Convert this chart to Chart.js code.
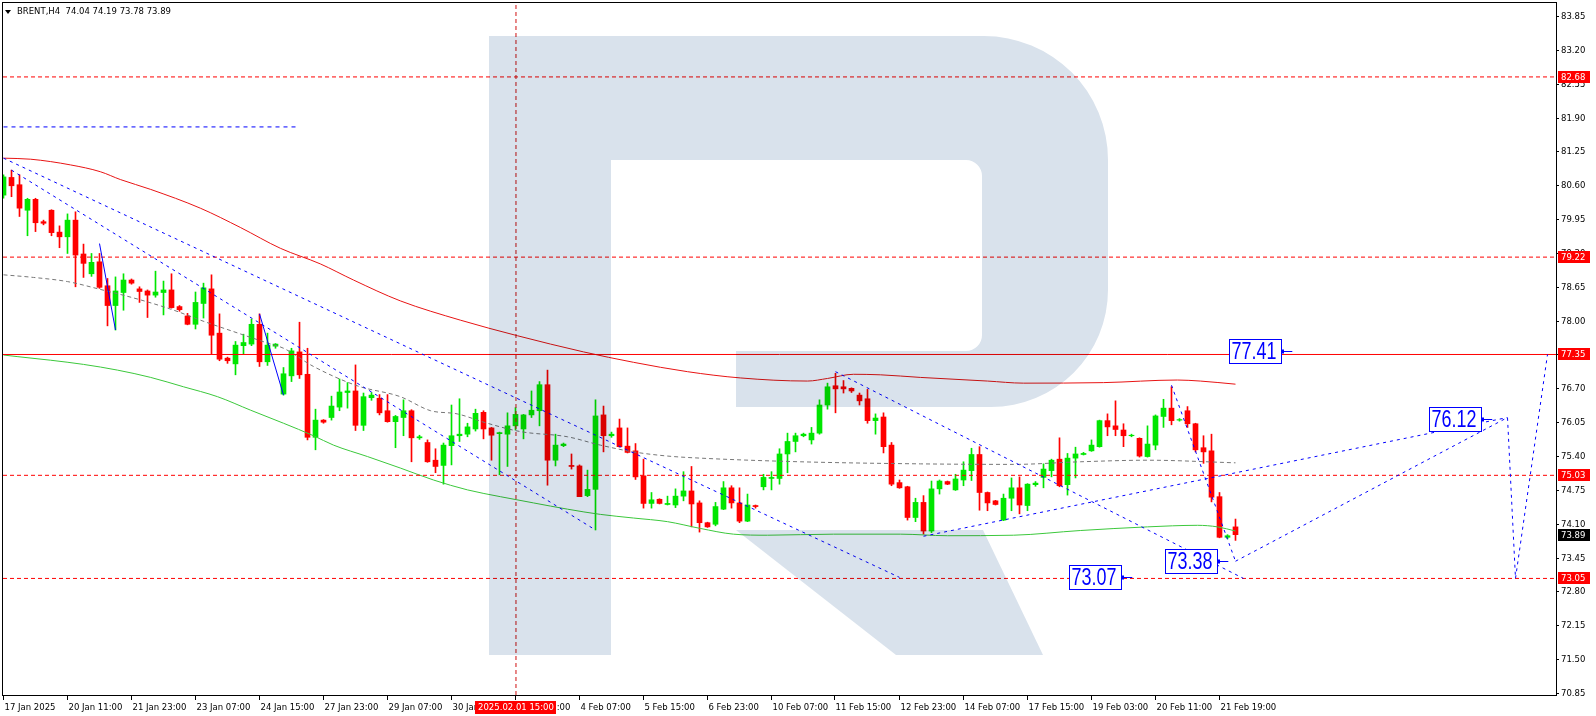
<!DOCTYPE html>
<html>
<head>
<meta charset="utf-8">
<title>BRENT,H4</title>
<script src="https://cdn.jsdelivr.net/npm/chart.js@4.4.1/dist/chart.umd.min.js"></script>
<style>
  html, body { margin: 0; padding: 0; background: #fff; overflow: hidden; }
  #brent-chart { display: block; }
</style>
</head>
<body>
<canvas id="brent-chart" width="1596" height="716"></canvas>
<script>
// BRENT H4 bars, bar 0 = 17 Jan 2025
const opens = [
  80.41, 80.75, 80.61, 80.12, 80.33, 79.90, 80.12, 79.70, 79.61, 79.93,
  79.28, 78.90, 79.13, 78.67, 78.29, 78.54, 78.78, 78.61, 78.57, 78.49,
  78.54, 78.59, 78.27, 78.09, 77.93, 78.33, 78.61, 77.76, 77.28, 77.17,
  77.52, 77.55, 77.93, 77.21, 77.51, 76.59, 76.94, 77.40, 76.97, 75.76,
  76.09, 76.14, 76.34, 76.62, 76.65, 75.99, 76.52, 76.51, 76.27, 76.06,
  76.14, 76.27, 75.75, 75.66, 75.32, 75.22, 75.60, 75.79, 75.82, 75.92,
  76.24, 75.94, 75.83, 75.82, 75.98, 75.92, 76.19, 76.27, 76.77, 75.32,
  75.60, 75.22, 75.21, 74.64, 74.76, 76.19, 75.79, 75.94, 75.59, 75.50,
  75.02, 74.49, 74.57, 74.47, 74.46, 74.63, 74.73, 74.50, 74.12, 74.09,
  74.38, 74.79, 74.50, 74.15, 74.45, 74.81, 74.97, 74.97, 75.44, 75.68,
  75.79, 75.71, 75.84, 76.38, 76.75, 76.73, 76.70, 76.57, 76.50, 76.08,
  76.15, 75.61, 74.89, 74.81, 74.22, 74.51, 73.96, 74.77, 74.91, 74.75,
  74.94, 75.12, 75.43, 74.70, 74.54, 74.17, 74.59, 74.79, 74.45, 74.85,
  74.99, 75.12, 75.34, 74.85, 75.36, 75.43, 75.50, 75.58, 76.08, 75.98,
  75.90, 75.79, 75.74, 75.39, 75.61, 76.16, 76.32, 76.09, 76.27, 76.02,
  75.56, 75.50, 74.62, 73.84, 74.04
];
const highs = [
  80.80, 80.89, 80.80, 80.35, 80.35, 79.93, 80.13, 79.82, 80.05, 80.09,
  79.47, 79.29, 79.29, 78.81, 78.84, 78.90, 78.80, 78.65, 78.59, 78.95,
  78.76, 78.90, 78.29, 78.14, 78.55, 78.72, 78.88, 78.13, 77.30, 77.60,
  77.74, 78.03, 78.13, 77.76, 77.56, 77.10, 77.47, 77.97, 77.47, 76.30,
  76.10, 76.55, 76.88, 76.81, 77.15, 76.61, 76.62, 76.58, 76.58, 76.18,
  76.48, 76.29, 75.80, 75.71, 75.54, 75.65, 76.38, 76.50, 76.03, 76.30,
  76.27, 75.95, 75.86, 76.23, 76.33, 76.20, 76.65, 76.83, 77.05, 75.82,
  75.65, 75.44, 75.23, 75.13, 76.48, 76.36, 75.86, 76.11, 75.94, 75.64,
  75.34, 74.70, 74.58, 74.63, 74.77, 75.10, 75.20, 74.54, 74.13, 74.51,
  74.91, 74.83, 74.79, 74.67, 74.46, 75.05, 75.10, 75.54, 75.84, 75.84,
  75.84, 75.95, 76.48, 76.80, 76.99, 76.85, 76.71, 76.61, 76.68, 76.21,
  76.23, 75.66, 74.94, 74.82, 74.59, 74.64, 74.92, 74.94, 74.92, 75.05,
  75.29, 75.55, 75.58, 74.71, 74.55, 74.67, 74.98, 75.00, 74.87, 74.91,
  75.25, 75.34, 75.75, 75.45, 75.57, 75.47, 75.71, 76.09, 76.21, 76.46,
  76.02, 75.82, 75.75, 75.98, 76.19, 76.49, 76.73, 76.12, 76.35, 76.03,
  75.79, 75.82, 74.70, 73.89, 74.19
];
const lows = [
  80.35, 80.38, 80.00, 79.63, 79.71, 79.84, 79.63, 79.40, 79.29, 78.65,
  78.83, 78.85, 78.62, 77.90, 77.82, 78.20, 78.70, 78.35, 78.06, 78.45,
  78.11, 78.24, 78.18, 77.92, 77.84, 78.05, 77.36, 77.23, 77.18, 76.96,
  77.36, 77.52, 77.12, 77.14, 77.47, 76.57, 76.83, 76.89, 75.71, 75.52,
  76.03, 76.09, 76.27, 76.32, 75.89, 75.89, 76.47, 76.19, 76.05, 75.56,
  75.79, 75.29, 75.72, 75.28, 75.08, 74.86, 75.23, 75.68, 75.77, 75.88,
  75.73, 75.32, 75.04, 75.20, 75.90, 75.73, 76.14, 75.98, 74.84, 75.21,
  75.58, 75.15, 74.62, 74.62, 73.98, 75.48, 75.76, 75.57, 75.46, 74.95,
  74.40, 74.40, 74.48, 74.46, 74.41, 74.54, 74.04, 73.94, 74.03, 74.06,
  74.37, 74.40, 74.12, 74.14, 74.40, 74.75, 74.75, 74.86, 75.08, 75.48,
  75.77, 75.63, 75.82, 76.30, 76.23, 76.61, 76.62, 76.38, 76.03, 75.82,
  75.46, 74.83, 74.78, 74.17, 74.14, 73.90, 73.93, 74.67, 74.85, 74.74,
  74.83, 74.93, 74.36, 74.35, 74.46, 74.16, 74.35, 74.29, 74.35, 74.82,
  74.79, 75.00, 74.81, 74.65, 74.98, 75.42, 75.49, 75.57, 75.79, 75.79,
  75.58, 75.77, 75.38, 75.38, 75.52, 75.95, 76.00, 76.07, 75.95, 75.48,
  75.26, 74.52, 73.83, 73.81, 73.78
];
const closes = [
  80.76, 80.59, 80.16, 80.33, 79.88, 79.87, 79.69, 79.61, 79.93, 79.26,
  79.10, 79.12, 78.64, 78.29, 78.57, 78.78, 78.72, 78.56, 78.49, 78.55,
  78.59, 78.25, 78.21, 77.93, 78.35, 78.63, 77.72, 77.26, 77.23, 77.53,
  77.58, 77.93, 77.21, 77.53, 77.55, 76.98, 77.42, 76.96, 75.76, 76.09,
  76.05, 76.36, 76.63, 76.65, 75.99, 76.54, 76.57, 76.23, 76.06, 76.16,
  76.27, 75.75, 75.77, 75.29, 75.20, 75.61, 75.79, 75.82, 75.96, 76.22,
  75.92, 75.80, 75.85, 75.98, 76.20, 76.19, 76.28, 76.77, 75.32, 75.61,
  75.63, 75.20, 74.62, 74.76, 76.17, 75.79, 75.82, 75.58, 75.47, 75.00,
  74.49, 74.56, 74.49, 74.49, 74.63, 74.73, 74.48, 74.12, 74.04, 74.43,
  74.79, 74.50, 74.15, 74.46, 74.43, 74.99, 74.99, 75.44, 75.68, 75.79,
  75.82, 75.84, 76.38, 76.73, 76.69, 76.69, 76.65, 76.46, 76.08, 76.13,
  75.58, 74.86, 74.79, 74.22, 74.51, 73.96, 74.77, 74.92, 74.86, 74.96,
  75.13, 75.43, 74.70, 74.50, 74.47, 74.59, 74.79, 74.46, 74.86, 74.88,
  75.15, 75.32, 74.83, 75.36, 75.44, 75.45, 75.61, 76.08, 75.96, 75.91,
  75.79, 75.80, 75.40, 75.63, 76.17, 76.32, 76.08, 76.10, 76.02, 75.52,
  75.48, 74.61, 73.84, 73.87, 73.89
];

// moving averages, [bar, price] read at points along each curve
const redMa = [[0, 81.12], [3.4, 81.10], [8.4, 80.99], [12.1, 80.86], [14.6, 80.71], [18.4, 80.52],
  [24.6, 80.16], [29.6, 79.79], [34.6, 79.39], [39.6, 79.09], [43.75, 78.78], [49.6, 78.38],
  [57.1, 78.01], [64.25, 77.71], [72.5, 77.40], [78.75, 77.20], [85.5, 77.02], [92.1, 76.90],
  [100.5, 76.84], [103, 76.89], [106.25, 76.97], [109.6, 76.96], [114.6, 76.91], [123, 76.84],
  [127.5, 76.80], [137.5, 76.81], [146.75, 76.86], [149.6, 76.84], [154, 76.78]];
const greenMa = [[0, 77.34], [1.7, 77.31], [5.9, 77.24], [10, 77.16], [14.25, 77.05], [18.4, 76.91],
  [22.5, 76.73], [26.75, 76.54], [30.9, 76.28], [35, 76.03], [38.75, 75.79], [41.25, 75.61],
  [45.5, 75.39], [49.6, 75.17], [53.75, 74.94], [58, 74.75], [62.1, 74.62], [66.25, 74.50],
  [70.5, 74.38], [74.6, 74.28], [78.75, 74.21], [83, 74.14], [87.1, 74.01], [91.25, 73.90],
  [95.5, 73.88], [103.75, 73.90], [112.1, 73.90], [118, 73.87], [126.25, 73.88], [134.6, 73.97],
  [143, 74.04], [149.25, 74.07], [151.75, 74.04], [154, 73.96]];
const grayMa = [[0, 78.88], [3.75, 78.83], [8, 78.75], [12.1, 78.60], [17.1, 78.40], [21.3, 78.20],
  [24.6, 78.01], [28.75, 77.79], [33, 77.57], [35, 77.47], [38.75, 77.12], [44.2, 76.75],
  [49.6, 76.54], [53.4, 76.27], [56.7, 76.21], [60.25, 76.04], [64.6, 75.87], [70.5, 75.77],
  [74.6, 75.61], [78.75, 75.48], [83, 75.40], [87.1, 75.36], [99.6, 75.29], [114.6, 75.25],
  [126.25, 75.24], [134.6, 75.29], [143, 75.32], [154, 75.27]];

// analyst's wave lines, [bar, price]
const waveB = [[0, 81.12], [112, 73.07]];
const waveC = [[1, 80.89], [74, 73.98]];
const waveUp = [[115, 73.86], [188, 76.14]];
const wave11Feb = [[104, 77.02], [155, 73.05]];
const wave20Feb = [[146, 76.76], [154, 73.38]];
const forecast = [[154, 73.38], [188, 76.14], [189, 73.05], [193, 77.35]];
const zigA = [[12, 79.48], [14, 77.82]];
const zigB = [[32, 78.13], [35, 76.57]];
const topDash = [[0, 81.72], [36.6, 81.72]];

const dashedLevels = [82.68, 79.22, 75.03, 73.05];
const solidLevel = 77.35;
const lastPrice = 73.89;
const markerBar = 64.06;
const markerText = '2025.02.01 15:00';

const tagPrices = [73.07, 73.38, 76.12, 77.41];
const tagBars = [141.1, 153.1, 186.1, 161.1];

const priceTicks = [70.85, 71.50, 72.15, 72.80, 73.45, 74.10, 74.75, 75.40, 76.05, 76.70, 77.35,
  78.00, 78.65, 79.30, 79.95, 80.60, 81.25, 81.90, 82.55, 83.20, 83.85];
const timeTickBars = [0, 8, 16, 24, 32, 40, 48, 56, 64, 72, 80, 88, 96, 104, 112, 120, 128, 136, 144, 152];
const timeTickText = ['17 Jan 2025', '20 Jan 11:00', '21 Jan 23:00', '23 Jan 07:00', '24 Jan 15:00',
  '27 Jan 23:00', '29 Jan 07:00', '30 Jan 15:00', '31 Jan 23:00', '4 Feb 07:00', '5 Feb 15:00',
  '6 Feb 23:00', '10 Feb 07:00', '11 Feb 15:00', '12 Feb 23:00', '14 Feb 07:00', '17 Feb 15:00',
  '19 Feb 03:00', '20 Feb 11:00', '21 Feb 19:00'];
const header = 'BRENT,H4  74.04 74.19 73.78 73.89';

const X_MIN = -0.0625, X_MAX = 194.0625;
const Y_MIN = 70.8116, Y_MAX = 84.0996;
const UP = '#00e600', DOWN = '#ff0000', BLUE = '#0000ff';
const FONT = '8.5px "DejaVu Sans"';

const bars = closes.map((c, i) => i);
const candleColors = bars.map(i => closes[i] >= opens[i] ? UP : DOWN);

function pts(list) {
  return list.map(p => ({ x: p[0], y: p[1] }));
}

function line(list, color, dash, order, smooth) {
  return {
    type: 'line',
    data: pts(list),
    borderColor: color,
    borderWidth: 1,
    borderDash: dash,
    pointRadius: 0,
    fill: false,
    order: order,
    tension: smooth ? 0.4 : 0,
    cubicInterpolationMode: smooth ? 'monotone' : 'default',
  };
}

const datasets = [
  {
    type: 'bar', data: bars.map(i => ({ x: i, y: [lows[i], highs[i]] })),
    backgroundColor: candleColors, barThickness: 1, grouped: false, order: 20,
  },
  {
    type: 'bar', data: bars.map(i => ({ x: i, y: [opens[i], closes[i]] })),
    backgroundColor: candleColors, barThickness: 5, grouped: false, order: 19,
  },
  line(redMa, '#e81414', [], 10, true),
  line(greenMa, '#3cc83c', [], 10, true),
  line(grayMa, '#777777', [4, 3], 10, true),
  line([[X_MIN, solidLevel], [X_MAX, solidLevel]], '#ff0000', [], 5),
  line([[markerBar, Y_MIN], [markerBar, Y_MAX]], '#d01010', [4, 3], 5),
  line(topDash, BLUE, [4, 4], 4),
  line(waveB, BLUE, [3, 4], 3),
  line(waveC, BLUE, [3, 4], 3),
  line(waveUp, BLUE, [3, 4], 3),
  line(wave11Feb, BLUE, [3, 4], 3),
  line(wave20Feb, BLUE, [3, 4], 3),
  line(forecast, BLUE, [3, 4], 3),
  line(zigA, BLUE, [], 3),
  line(zigB, BLUE, [], 3),
];
dashedLevels.forEach(v => datasets.push(line([[X_MIN, v], [X_MAX, v]], '#ff0000', [4, 3], 5)));

const mt4Decor = {
  id: 'mt4Decor',
  afterDatasetsDraw(chart) {
    // big "R" logo, multiplied over everything inside the plot
    const { ctx, chartArea: a } = chart;
    ctx.save();
    ctx.beginPath();
    ctx.rect(a.left, a.top, a.right - a.left, a.bottom - a.top);
    ctx.clip();
    ctx.globalCompositeOperation = 'multiply';
    ctx.fillStyle = 'rgb(217,226,236)';
    ctx.beginPath();
    ctx.moveTo(489, 36);
    ctx.lineTo(984, 36);
    ctx.arcTo(1108, 36, 1108, 160, 124);
    ctx.lineTo(1108, 290);
    ctx.arcTo(1108, 407, 990, 407, 117);
    ctx.lineTo(736, 407);
    ctx.lineTo(736, 351);
    ctx.lineTo(611, 351);
    ctx.lineTo(611, 655);
    ctx.lineTo(489, 655);
    ctx.closePath();
    ctx.moveTo(611, 160);
    ctx.lineTo(966, 160);
    ctx.arcTo(982, 160, 982, 176, 16);
    ctx.lineTo(982, 335);
    ctx.arcTo(982, 351, 966, 351, 16);
    ctx.lineTo(611, 351);
    ctx.closePath();
    ctx.fill('evenodd');
    ctx.beginPath();
    ctx.moveTo(736, 530);
    ctx.lineTo(983, 530);
    ctx.lineTo(1043, 655);
    ctx.lineTo(896, 655);
    ctx.closePath();
    ctx.fill();
    ctx.restore();
  },
  afterDraw(chart) {
    const { ctx, chartArea: a, scales: { x, y } } = chart;
    ctx.save();
    // frame
    ctx.strokeStyle = '#000';
    ctx.lineWidth = 1;
    ctx.strokeRect(2.5, 2.5, a.right - 2, a.bottom - 2);

    ctx.font = FONT;
    ctx.fillStyle = '#000';
    ctx.textBaseline = 'middle';
    ctx.textAlign = 'left';
    // price scale
    priceTicks.forEach(v => {
      const py = Math.round(y.getPixelForValue(v)) + 0.5;
      ctx.beginPath();
      ctx.moveTo(a.right, py);
      ctx.lineTo(a.right + 3, py);
      ctx.stroke();
      ctx.fillText(v.toFixed(2), a.right + 5, py);
    });
    // time scale
    ctx.textBaseline = 'alphabetic';
    timeTickBars.forEach((b, k) => {
      const px = Math.round(x.getPixelForValue(b)) - 0.5;
      ctx.beginPath();
      ctx.moveTo(px, a.bottom + 1);
      ctx.lineTo(px, a.bottom + 5);
      ctx.stroke();
      ctx.fillText(timeTickText[k], px + 1, a.bottom + 15);
    });

    // level tags on the price scale
    ctx.textBaseline = 'middle';
    const tag = (v, bg) => {
      const py = Math.round(y.getPixelForValue(v));
      ctx.fillStyle = bg;
      ctx.fillRect(a.right + 2, py - 6, 32, 12);
      ctx.fillStyle = '#fff';
      ctx.fillText(v.toFixed(2), a.right + 5, py + 0.5);
    };
    dashedLevels.concat([solidLevel]).forEach(v => tag(v, '#ff0000'));
    tag(lastPrice, '#000000');

    // time tag of the vertical marker
    const mx = x.getPixelForValue(markerBar);
    ctx.fillStyle = '#ff0000';
    ctx.fillRect(mx - 41, a.bottom + 6, 81, 13);
    ctx.fillStyle = '#fff';
    ctx.textAlign = 'center';
    ctx.fillText(markerText, mx, a.bottom + 13);

    // header
    ctx.textAlign = 'left';
    ctx.fillStyle = '#000';
    ctx.beginPath();
    ctx.moveTo(5, 10);
    ctx.lineTo(11, 10);
    ctx.lineTo(8, 14);
    ctx.closePath();
    ctx.fill();
    ctx.fillText(header, 17, 12);

    // price labels on the forecast
    tagPrices.forEach((v, k) => {
      const tipX = x.getPixelForValue(tagBars[k]);
      const py = Math.round(y.getPixelForValue(v)) + 0.5;
      const right = Math.round(tipX) - 10.5;
      const left = right - 52;
      ctx.fillStyle = '#fff';
      ctx.fillRect(left, py - 12, 52, 24);
      ctx.strokeStyle = BLUE;
      ctx.strokeRect(left, py - 12, 52, 24);
      ctx.beginPath();
      ctx.moveTo(right, py);
      ctx.lineTo(tipX, py);
      ctx.stroke();
      ctx.strokeRect(right, py - 1.5, 2, 3);
      ctx.save();
      ctx.translate(left + 2, py + 1);
      ctx.scale(0.78, 1);
      ctx.fillStyle = BLUE;
      ctx.font = '23px "Liberation Sans"';
      ctx.fillText(v.toFixed(2), 0, 0);
      ctx.restore();
    });
    ctx.restore();
  },
};

new Chart(document.getElementById('brent-chart'), {
  type: 'bar',
  data: { datasets },
  options: {
    responsive: false,
    animation: false,
    devicePixelRatio: 1,
    layout: { padding: { left: 3, top: 3, right: 0, bottom: 0 } },
    plugins: { legend: { display: false }, tooltip: { enabled: false } },
    scales: {
      x: {
        type: 'linear', min: X_MIN, max: X_MAX, offset: false,
        grid: { display: false }, border: { display: false }, ticks: { display: false },
        afterFit: s => { s.height = 21; },
      },
      y: {
        type: 'linear', position: 'right', min: Y_MIN, max: Y_MAX,
        grid: { display: false }, border: { display: false }, ticks: { display: false },
        afterFit: s => { s.width = 40; },
      },
    },
  },
  plugins: [mt4Decor],
});
</script>
</body>
</html>
